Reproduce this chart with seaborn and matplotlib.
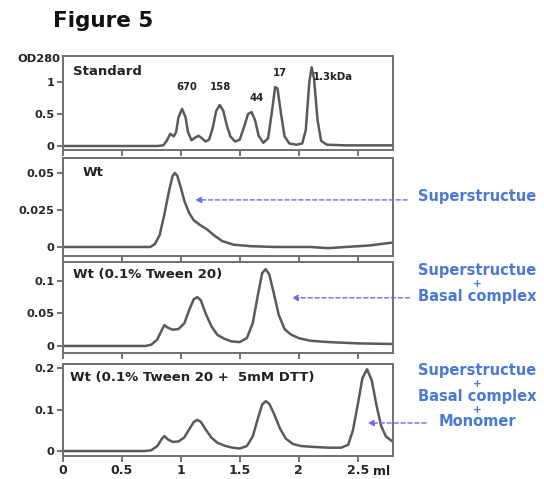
import numpy as np
import pandas as pd
import matplotlib
matplotlib.use("Agg")
import matplotlib.pyplot as plt
import matplotlib.transforms as mtransforms
import seaborn as sns

# 1. Data (elution volume in ml, OD280)
std_ml = [0.0, 0.80, 0.85, 0.88, 0.91, 0.94, 0.96, 0.98, 1.01, 1.04, 1.06, 1.09,
          1.12, 1.15, 1.18, 1.21, 1.24, 1.27, 1.30, 1.33, 1.36, 1.39, 1.42, 1.46,
          1.50, 1.54, 1.57, 1.60, 1.63, 1.66, 1.70, 1.74, 1.77, 1.80, 1.82, 1.85,
          1.88, 1.92, 1.98, 2.03, 2.06, 2.09, 2.11, 2.13, 2.16, 2.19, 2.24, 2.40, 2.80]
std_od = [0.0, 0.0, 0.01, 0.08, 0.19, 0.15, 0.22, 0.45, 0.58, 0.45, 0.22, 0.09,
          0.13, 0.16, 0.12, 0.07, 0.10, 0.28, 0.55, 0.64, 0.55, 0.32, 0.15, 0.07,
          0.10, 0.32, 0.50, 0.53, 0.40, 0.16, 0.05, 0.12, 0.50, 0.92, 0.90, 0.50,
          0.15, 0.04, 0.02, 0.04, 0.25, 1.00, 1.23, 1.05, 0.40, 0.08, 0.02, 0.01, 0.01]

wt_ml = [0.0, 0.74, 0.78, 0.82, 0.86, 0.90, 0.93, 0.95, 0.97, 1.00, 1.03, 1.07,
         1.11, 1.16, 1.22, 1.28, 1.35, 1.45, 1.60, 1.80, 2.10, 2.25, 2.40, 2.60,
         2.75, 2.80]
wt_od = [0.0, 0.0, 0.002, 0.008, 0.022, 0.038, 0.048, 0.050, 0.048, 0.040, 0.031,
         0.023, 0.018, 0.015, 0.012, 0.008, 0.004, 0.0015, 0.0005, 0.0, 0.0,
         -0.0008, 0.0, 0.001, 0.0025, 0.003]

tw_ml = [0.0, 0.70, 0.75, 0.80, 0.84, 0.86, 0.89, 0.93, 0.98, 1.03, 1.07, 1.11,
         1.14, 1.17, 1.21, 1.26, 1.31, 1.37, 1.43, 1.50, 1.56, 1.61, 1.65, 1.69,
         1.72, 1.75, 1.79, 1.83, 1.88, 1.93, 2.00, 2.10, 2.25, 2.50, 2.80]
tw_od = [0.0, 0.0, 0.002, 0.010, 0.025, 0.032, 0.028, 0.025, 0.026, 0.035, 0.055,
         0.072, 0.075, 0.070, 0.050, 0.030, 0.017, 0.011, 0.007, 0.006, 0.012,
         0.035, 0.075, 0.112, 0.118, 0.110, 0.080, 0.048, 0.026, 0.018, 0.012,
         0.008, 0.006, 0.004, 0.003]

dtt_ml = [0.0, 0.70, 0.75, 0.80, 0.84, 0.86, 0.89, 0.93, 0.98, 1.03, 1.07, 1.11,
          1.14, 1.17, 1.21, 1.26, 1.31, 1.38, 1.44, 1.50, 1.56, 1.61, 1.65, 1.69,
          1.72, 1.75, 1.79, 1.84, 1.89, 1.95, 2.02, 2.12, 2.25, 2.36, 2.42, 2.46,
          2.50, 2.54, 2.58, 2.62, 2.66, 2.70, 2.74, 2.80]
dtt_od = [0.0, 0.0, 0.002, 0.012, 0.030, 0.036, 0.028, 0.022, 0.023, 0.033, 0.052,
          0.070, 0.075, 0.070, 0.052, 0.032, 0.020, 0.012, 0.008, 0.006, 0.012,
          0.035, 0.075, 0.112, 0.120, 0.114, 0.090, 0.055, 0.030, 0.017, 0.012,
          0.010, 0.008, 0.008, 0.015, 0.050, 0.110, 0.175, 0.197, 0.170, 0.110,
          0.060, 0.035, 0.022]

panel_titles = ["Standard", "Wt", "Wt (0.1% Tween 20)", "Wt (0.1% Tween 20 +  5mM DTT)"]
panel_yticks = [[0, 0.5, 1], [0, 0.025, 0.05], [0, 0.05, 0.1], [0, 0.1, 0.2]]
panel_yticklabels = [["0", "0.5", "1"], ["0", "0.025", "0.05"],
                     ["0", "0.05", "0.1"], ["0", "0.1", "0.2"]]
x_ticks = [0, 0.5, 1, 1.5, 2, 2.5]
x_ticklabels = ["0", "0.5", "1", "1.5", "2", "2.5"]

# standard markers (kDa) and where they sit
marker_names = ["670", "158", "44", "17", "1.3kDa"]
marker_ml = [1.05, 1.34, 1.64, 1.84, 2.12]
marker_od = [0.92, 0.92, 0.75, 1.14, 1.08]

# arrows: (panel, head ml, OD, tail ml)
arrow_panel = [1, 2, 3]
arrow_head_ml = [1.12, 1.94, 2.585]
arrow_od = [0.0318, 0.074, 0.0675]
arrow_tail_ml = [2.92, 2.94, 3.08]


def main():
    sns.set_style("ticks")
    plt.rcParams['font.family'] = ['DejaVu Sans']
    plt.rcParams['font.weight'] = 'bold'

    fig = plt.figure(figsize=(5.44, 4.79), dpi=100)
    W, H = 544.0, 479.0

    # axes boxes in pixels: (top, bottom)
    boxes = [(56, 150), (158, 256), (262, 353), (364, 456)]
    ylims = [(-0.0625, 1.406), (-0.0061, 0.0601), (-0.0108, 0.129), (-0.012, 0.2096)]
    series = [(std_ml, std_od), (wt_ml, wt_od), (tw_ml, tw_od), (dtt_ml, dtt_od)]
    title_pos = [(0.03, 0.84), (0.058, 0.847), (0.03, 0.868), (0.021, 0.848)]

    gray = '#5a5a5a'
    axes = []
    for i, (top, bot) in enumerate(boxes):
        ax = fig.add_axes([63 / W, 1 - bot / H, 330 / W, (bot - top) / H])
        df = pd.DataFrame({'ml': series[i][0], 'od': series[i][1]})
        sns.lineplot(data=df, x='ml', y='od', ax=ax, color=gray, lw=1.8,
                     estimator=None, sort=True)
        ax.set_xlim(0, 2.8)
        ax.set_ylim(*ylims[i])
        ax.set_xlabel('')
        ax.set_ylabel('')
        ax.set_yticks(panel_yticks[i])
        ax.set_yticklabels(panel_yticklabels[i], fontsize=8.2, fontweight='bold')
        ax.set_xticks(x_ticks)
        if i == 3:
            ax.set_xticklabels(x_ticklabels, fontsize=9, fontweight='bold')
        else:
            ax.set_xticklabels([])
        ax.tick_params(direction='out', length=4, width=1.2, color=gray, pad=2)
        for sp in ax.spines.values():
            sp.set_visible(True)
            sp.set_color('#707070')
            sp.set_linewidth(1.4)
        ax.text(title_pos[i][0], title_pos[i][1], panel_titles[i],
                transform=ax.transAxes, fontsize=9.5, fontweight='bold',
                color='#222222', va='center', ha='left')
        axes.append(ax)

    # "ml" unit next to the last tick
    tr = mtransforms.blended_transform_factory(axes[3].transData, axes[3].transAxes)
    axes[3].text(2.70, -0.17, 'ml', transform=tr, fontsize=9, fontweight='bold',
                 ha='center', va='center', color='#222222')

    # 2. Marker labels for the standard
    for name, xm, ym in zip(marker_names, marker_ml, marker_od):
        ha = 'left' if name == "1.3kDa" else 'center'
        axes[0].text(xm, ym, name, fontsize=7.3, fontweight='bold', ha=ha,
                     va='center', color='#222222')

    fig.text(60 / W, 1 - 59 / H, 'OD280', fontsize=8.2, fontweight='bold',
             ha='right', va='center', color='#222222')
    fig.text(53 / W, 1 - 27 / H, 'Figure 5', fontsize=15.5, fontweight='bold',
             ha='left', va='baseline', color='#111111')

    # 3. Dashed blue arrows and species labels
    arrow_col = '#6b6cf2'
    for p, xh, yh, xt in zip(arrow_panel, arrow_head_ml, arrow_od, arrow_tail_ml):
        axes[p].annotate('', xy=(xh, yh), xytext=(xt, yh),
                         arrowprops=dict(arrowstyle='-|>', linestyle=(0, (3, 2)),
                                         color=arrow_col, lw=1.0,
                                         mutation_scale=9, shrinkA=0, shrinkB=0),
                         annotation_clip=False)

    blue = '#4a78d4'
    labels = [("Superstructue", 197, 10.5), ("Superstructue", 270, 10.5),
              ("+", 284, 7.5), ("Basal complex", 297, 10.5),
              ("Superstructue", 370, 10.5), ("+", 384, 7.5),
              ("Basal complex", 397, 10.5), ("+", 410, 7.5), ("Monomer", 422, 10.5)]
    for txt, ypx, fs in labels:
        fig.text(477 / W, 1 - ypx / H, txt, fontsize=fs, fontweight='bold',
                 color=blue, ha='center', va='center')

    fig.savefig('out.png', dpi=100, facecolor='white')
    plt.close(fig)


if __name__ == "__main__":
    main()
